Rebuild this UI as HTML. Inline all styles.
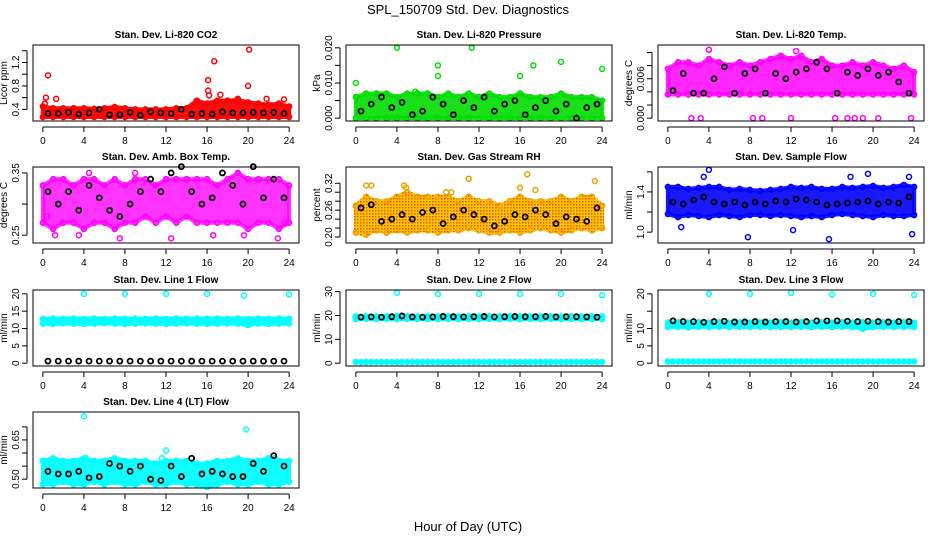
<!DOCTYPE html>
<html><head><meta charset="utf-8"><style>
body{margin:0;background:#fff;}
svg text{font-family:"Liberation Sans",sans-serif;}
</style></head><body>
<svg id="c" width="936" height="540" viewBox="0 0 936 540" xmlns="http://www.w3.org/2000/svg">
<defs>
<pattern id="rhpat" width="3" height="3" patternUnits="userSpaceOnUse"><rect width="3" height="3" fill="#ffc800"/><rect width="1.5" height="1.5" fill="#e85000"/></pattern>
</defs>
<rect width="936" height="540" fill="#fff"/>
<text x="468" y="14" text-anchor="middle" font-size="13">SPL_150709  Std. Dev. Diagnostics</text>
<text x="468" y="531" text-anchor="middle" font-size="13">Hour of Day (UTC)</text>
</svg>
<script>
const bandHours=[0,1,2,3,4,5,6,7,8,9,10,11,12,13,14,15,16,17,18,19,20,21,22,23,24];
const blkHours=[0.5,1.5,2.5,3.5,4.5,5.5,6.5,7.5,8.5,9.5,10.5,11.5,12.5,13.5,14.5,15.5,16.5,17.5,18.5,19.5,20.5,21.5,22.5,23.5];
const xTicks=[0,4,8,12,16,20,24];

const p1Lo=[0.27,0.27,0.27,0.27,0.27,0.27,0.27,0.27,0.27,0.27,0.27,0.27,0.27,0.27,0.27,0.27,0.27,0.27,0.27,0.27,0.27,0.27,0.27,0.27,0.27];
const p1Hi=[0.45,0.42,0.42,0.42,0.42,0.41,0.42,0.44,0.42,0.4,0.4,0.4,0.4,0.42,0.42,0.55,0.5,0.55,0.55,0.56,0.52,0.5,0.48,0.5,0.45];
const p1Blk=[0.33,0.33,0.35,0.32,0.34,0.4,0.31,0.31,0.35,0.3,0.36,0.34,0.33,0.4,0.32,0.33,0.32,0.36,0.34,0.34,0.35,0.34,0.35,0.33];
const p1OutX=[0.5,0.3,1.3,16.1,16.1,16.2,16.7,17.3,20.1,20,21.8,23.5,19,0.2];
const p1OutY=[0.98,0.6,0.58,0.9,0.72,0.64,1.22,0.65,1.42,0.8,0.58,0.57,0.58,0.5];
const p1Ticks=[0.4,0.6,0.8,1.0,1.2,1.4];
const p1Labels=["0.4","","0.8","","1.2",""];

const p2Lo=[0,0,0,0,0,0,0,0,0,0,0,0,0,0,0,0,0,0,0,0,0,0,0,0,0];
const p2Hi=[0.006,0.007,0.007,0.007,0.006,0.007,0.007,0.007,0.006,0.007,0.006,0.007,0.006,0.007,0.006,0.006,0.007,0.006,0.006,0.006,0.007,0.006,0.006,0.006,0.005];
const p2Blk=[0.002,0.004,0.006,0.003,0.0045,0.001,0.002,0.006,0.004,0.001,0.005,0.003,0.006,0.002,0.004,0.005,0.001,0.003,0.005,0.002,0.004,0.0,0.003,0.004];
const p2OutX=[4,11.3,8,8,0,17.3,16,20,24,5.8];
const p2OutY=[0.02,0.02,0.015,0.012,0.01,0.015,0.012,0.016,0.014,0.0075];
const p2Ticks=[0,0.005,0.01,0.015,0.02];
const p2Labels=["0.000","","0.010","","0.020"];

const p3Lo=[0.0036,0.0036,0.0036,0.0036,0.0036,0.0036,0.0036,0.0036,0.0036,0.0036,0.0036,0.0036,0.0036,0.0036,0.0036,0.0036,0.0036,0.0036,0.0036,0.0036,0.0036,0.0036,0.0036,0.0036,0.0036];
const p3Hi=[0.0075,0.0085,0.0085,0.008,0.009,0.0085,0.008,0.0085,0.008,0.0085,0.009,0.0095,0.009,0.0095,0.0085,0.009,0.008,0.008,0.0085,0.008,0.0085,0.008,0.0075,0.008,0.007];
const p3Blk=[0.0042,0.0068,0.0038,0.0038,0.006,0.0078,0.0038,0.0068,0.0075,0.0038,0.0068,0.006,0.007,0.0075,0.0085,0.0075,0.0038,0.007,0.0065,0.0075,0.0065,0.007,0.0055,0.0038];
const p3OutX=[2.3,3.2,8.3,9.2,12,16.3,17.5,18.2,19,20.5,23.7,12.5,4];
const p3OutY=[0,0,0,0,0,0,0,0,0,0,0,0.0102,0.0104];
const p3Ticks=[0,0.002,0.004,0.006,0.008,0.010];
const p3Labels=["0.000","","","0.006","",""];

const p4Lo=[0.27,0.26,0.27,0.27,0.26,0.27,0.27,0.26,0.27,0.27,0.28,0.27,0.28,0.27,0.28,0.27,0.27,0.27,0.27,0.27,0.26,0.27,0.27,0.26,0.27];
const p4Hi=[0.33,0.34,0.34,0.33,0.34,0.34,0.33,0.34,0.33,0.34,0.34,0.33,0.34,0.34,0.34,0.34,0.34,0.33,0.34,0.35,0.34,0.34,0.34,0.34,0.33];
const p4Blk=[0.32,0.3,0.32,0.29,0.33,0.31,0.29,0.28,0.3,0.32,0.34,0.32,0.35,0.36,0.32,0.3,0.31,0.35,0.33,0.3,0.36,0.31,0.34,0.31];
const p4OutX=[0.4,1.2,3.5,7.5,12.5,16.6,19.6,22.9,23.6,9,4.5];
const p4OutY=[0.28,0.25,0.25,0.245,0.245,0.25,0.25,0.245,0.27,0.35,0.35];
const p4Ticks=[0.25,0.30,0.35];
const p4Labels=["0.25","","0.35"];

const p5Lo=[0.21,0.205,0.215,0.21,0.215,0.21,0.215,0.215,0.21,0.215,0.215,0.22,0.215,0.21,0.21,0.215,0.21,0.215,0.22,0.215,0.21,0.215,0.22,0.215,0.22];
const p5Hi=[0.27,0.29,0.28,0.28,0.29,0.3,0.29,0.29,0.29,0.29,0.28,0.29,0.28,0.28,0.27,0.28,0.29,0.28,0.28,0.28,0.29,0.28,0.29,0.29,0.27];
const p5Blk=[0.265,0.272,0.235,0.24,0.25,0.24,0.255,0.26,0.23,0.245,0.26,0.25,0.24,0.225,0.235,0.25,0.245,0.26,0.25,0.23,0.245,0.24,0.235,0.265];
const p5OutX=[1,1.5,4.7,4.9,8.8,11,16.7,16,17.5,23.3,3,9.3];
const p5OutY=[0.315,0.315,0.315,0.31,0.3,0.33,0.34,0.31,0.305,0.325,0.21,0.3];
const p5Ticks=[0.20,0.22,0.24,0.26,0.28,0.30,0.32];
const p5Labels=["0.20","","","0.26","","","0.32"];

const p6Lo=[1.18,1.15,1.17,1.16,1.15,1.17,1.16,1.15,1.17,1.17,1.16,1.17,1.16,1.15,1.16,1.15,1.17,1.18,1.17,1.16,1.15,1.17,1.16,1.16,1.17];
const p6Hi=[1.45,1.45,1.43,1.44,1.45,1.45,1.42,1.43,1.42,1.41,1.42,1.43,1.45,1.44,1.45,1.43,1.43,1.45,1.44,1.45,1.46,1.44,1.45,1.47,1.45];
const p6Blk=[1.3,1.28,1.32,1.35,1.3,1.28,1.3,1.27,1.3,1.28,1.31,1.3,1.33,1.32,1.3,1.27,1.28,1.29,1.3,1.31,1.28,1.3,1.29,1.35];
const p6OutX=[4,3.5,7.8,12.2,15.7,19.5,23.8,23.5,1.3,17.8];
const p6OutY=[1.62,1.55,0.95,1.02,0.93,1.58,0.98,1.55,1.05,1.55];
const p6Ticks=[1.0,1.2,1.4,1.6];
const p6Labels=["1.0","","1.4",""];

const p7Lo=[11.4,11.3,11.5,11.4,11.3,11.4,11.5,11.4,11.3,11.4,11.5,11.4,11.3,11.4,11.5,11.4,11.3,11.4,11.5,11.4,11.0,11.4,11.3,11.4,11.5];
const p7Hi=[12.8,12.9,12.8,12.9,12.8,12.9,12.8,12.9,12.8,12.9,12.8,12.9,12.8,12.9,12.8,12.9,12.8,12.9,12.8,12.9,12.8,12.9,12.8,12.9,12.8];
const p7Blk=[0.6,0.6,0.6,0.6,0.6,0.6,0.6,0.6,0.6,0.6,0.6,0.6,0.6,0.6,0.6,0.6,0.6,0.6,0.6,0.6,0.6,0.6,0.6,0.6];
const p7OutX=[4,8,12,16,19.6,24];
const p7OutY=[20,20,20,20,19.5,19.8];
const p7Ticks=[0,5,10,15,20];
const p7Labels=["0","5","10","15","20"];

const p8Lo=[18.5,18.6,18.5,18.6,18.5,18.6,18.5,18.6,18.5,18.6,18.5,18.6,18.5,18.6,18.5,18.6,18.5,18.6,18.5,18.6,18.5,18.6,18.5,18.6,18.5];
const p8Hi=[19.6,19.7,19.6,19.7,19.8,19.7,19.6,19.7,19.6,19.7,19.6,19.7,19.6,19.7,19.6,19.7,19.6,19.7,19.6,19.7,19.6,19.7,19.6,19.7,19.6];
const p8Blk=[19.3,19.4,19.3,19.5,19.8,19.4,19.3,19.4,19.6,19.5,19.4,19.5,19.6,19.4,19.5,19.6,19.5,19.5,19.6,19.4,19.5,19.5,19.4,19.3];
const p8Bot=[0.5,0.5,0.5,0.5,0.5,0.5,0.5,0.5,0.5,0.5,0.5,0.5,0.5,0.5,0.5,0.5,0.5,0.5,0.5,0.5,0.5,0.5,0.5,0.5,0.5];
const p8OutX=[4,8,12,16,20,24];
const p8OutY=[29.5,29,29,29,29,28.5];
const p8Ticks=[0,10,20,30];
const p8Labels=["0","10","20","30"];

const p9Lo=[10.4,10.5,10.3,10.5,10.4,10.5,10.4,10.5,10.4,10.5,10.4,10.5,10.4,10.5,10.4,10.5,10.4,10.5,10.4,9.9,10.4,10.5,10.4,10.5,10.4];
const p9Hi=[11.7,11.8,11.7,11.8,11.7,11.8,11.7,11.8,11.7,11.8,11.7,11.8,11.7,11.8,11.7,11.8,11.7,11.8,11.7,11.8,11.7,11.8,11.7,11.8,11.7];
const p9Blk=[12.2,12,12,11.8,12,12.1,11.9,11.9,12,11.9,12,12,11.9,12,12.2,12.2,12.2,12.1,12,12.1,12,11.9,12,12];
const p9Bot=[0.5,0.5,0.5,0.5,0.5,0.5,0.5,0.5,0.5,0.5,0.5,0.5,0.5,0.5,0.5,0.5,0.5,0.5,0.5,0.5,0.5,0.5,0.5,0.5,0.5];
const p9OutX=[4,8,12,16,20,24];
const p9OutY=[20,20,20.3,19.8,20,19.7];
const p9Ticks=[0,5,10,15,20];
const p9Labels=["0","5","10","","20"];

const p10Lo=[0.48,0.48,0.49,0.48,0.48,0.49,0.48,0.49,0.48,0.48,0.49,0.48,0.48,0.49,0.48,0.48,0.47,0.48,0.49,0.48,0.48,0.49,0.48,0.48,0.49];
const p10Hi=[0.57,0.58,0.57,0.57,0.58,0.57,0.57,0.58,0.57,0.57,0.57,0.56,0.57,0.57,0.57,0.56,0.56,0.57,0.57,0.58,0.57,0.57,0.58,0.57,0.57];
const p10Blk=[0.53,0.52,0.52,0.53,0.505,0.51,0.56,0.55,0.53,0.55,0.5,0.495,0.55,0.51,0.58,0.52,0.53,0.52,0.51,0.51,0.56,0.53,0.59,0.55];
const p10OutX=[4,19.8,12,11.6,22.6,4.2];
const p10OutY=[0.74,0.69,0.61,0.58,0.58,0.58];
const p10Ticks=[0.50,0.55,0.60,0.65,0.70];
const p10Labels=["0.50","","","0.65",""];

const panels=[
 {t:"Stan. Dev. Li-820 CO2",yl:"Licor ppm",c:0,r:0,ylim:[0.25,1.45],col:"#ff0000",op:0.95,lo:p1Lo,hi:p1Hi,blk:p1Blk,ox:p1OutX,oy:p1OutY,tk:p1Ticks,lb:p1Labels,n:"co2"},
 {t:"Stan. Dev. Li-820 Pressure",yl:"kPa",c:1,r:0,ylim:[0,0.02],col:"#00dd00",op:0.9,lo:p2Lo,hi:p2Hi,blk:p2Blk,ox:p2OutX,oy:p2OutY,tk:p2Ticks,lb:p2Labels,n:"pressure"},
 {t:"Stan. Dev. Li-820 Temp.",yl:"degrees C",c:2,r:0,ylim:[0,0.0107],col:"#ff00ff",op:0.85,lo:p3Lo,hi:p3Hi,blk:p3Blk,ox:p3OutX,oy:p3OutY,tk:p3Ticks,lb:p3Labels,n:"licor-temp"},
 {t:"Stan. Dev. Amb. Box Temp.",yl:"degrees C",c:0,r:1,ylim:[0.242,0.355],col:"#ff00ff",op:0.8,lo:p4Lo,hi:p4Hi,blk:p4Blk,ox:p4OutX,oy:p4OutY,tk:p4Ticks,lb:p4Labels,n:"box-temp"},
 {t:"Stan. Dev. Gas Stream RH",yl:"percent",c:1,r:1,ylim:[0.193,0.35],col:"#f0a000",fill:"url(#rhpat)",op:1,lo:p5Lo,hi:p5Hi,blk:p5Blk,ox:p5OutX,oy:p5OutY,tk:p5Ticks,lb:p5Labels,n:"gas-rh"},
 {t:"Stan. Dev. Sample Flow",yl:"ml/min",c:2,r:1,ylim:[0.92,1.62],col:"#0000ff",op:0.9,lo:p6Lo,hi:p6Hi,blk:p6Blk,ox:p6OutX,oy:p6OutY,tk:p6Ticks,lb:p6Labels,n:"sample-flow"},
 {t:"Stan. Dev. Line 1 Flow",yl:"ml/min",c:0,r:2,ylim:[0,20.3],col:"#00ffff",op:1,lo:p7Lo,hi:p7Hi,blk:p7Blk,ox:p7OutX,oy:p7OutY,tk:p7Ticks,lb:p7Labels,n:"line1-flow"},
 {t:"Stan. Dev. Line 2 Flow",yl:"ml/min",c:1,r:2,ylim:[0,29.5],col:"#00ffff",op:1,lo:p8Lo,hi:p8Hi,blk:p8Blk,bot:p8Bot,ox:p8OutX,oy:p8OutY,tk:p8Ticks,lb:p8Labels,n:"line2-flow"},
 {t:"Stan. Dev. Line 3 Flow",yl:"ml/min",c:2,r:2,ylim:[0,20.3],col:"#00ffff",op:1,lo:p9Lo,hi:p9Hi,blk:p9Blk,bot:p9Bot,ox:p9OutX,oy:p9OutY,tk:p9Ticks,lb:p9Labels,n:"line3-flow"},
 {t:"Stan. Dev. Line 4 (LT) Flow",yl:"ml/min",c:0,r:3,ylim:[0.477,0.746],col:"#00ffff",op:0.95,lo:p10Lo,hi:p10Hi,blk:p10Blk,ox:p10OutX,oy:p10OutY,tk:p10Ticks,lb:p10Labels,n:"line4-flow"}
];
const svg=document.getElementById('c');
const NS="http://www.w3.org/2000/svg";
function mk(tag,attrs,parent){const e=document.createElementNS(NS,tag);for(const k in attrs)e.setAttribute(k,attrs[k]);parent.appendChild(e);return e;}
const colLeft=[33,346,658],rowTop=[45,167,290,412],W=266,H=76;
panels.forEach(p=>{
 const L=colLeft[p.c],T=rowTop[p.r];
 const g=mk('g',{},svg);
 
 
 const xs=h=>L+W*0.04/1.08+h/24*W/1.08;
 const r=p.ylim[1]-p.ylim[0],lo=p.ylim[0]-0.04*r,hi=p.ylim[1]+0.04*r;
 const ys=v=>T+H*(hi-v)/(hi-lo);
 let pts=bandHours.map((h,i)=>xs(h)+','+ys(p.hi[i]));
 pts=pts.concat(bandHours.slice().reverse().map((h,i)=>xs(h)+','+ys(p.lo[bandHours.length-1-i])));
 const band=mk('polygon',{points:pts.join(' '),fill:p.fill||p.col,'fill-opacity':p.op,stroke:p.fill||p.col,'stroke-opacity':p.op,'stroke-width':4,'stroke-linejoin':'round'},g);
 
 
 bandHours.forEach((h,i)=>{
  const a=mk('circle',{cx:xs(h),cy:ys(p.hi[i]),r:2.5,fill:'none',stroke:p.col,'stroke-width':1.5},g);
  
  
  const b=mk('circle',{cx:xs(h),cy:ys(p.lo[i]),r:2.5,fill:'none',stroke:p.col,'stroke-width':1.5},g);
  
  
  if(p.bot){const c=mk('circle',{cx:xs(h),cy:ys(p.bot[i]),r:2.5,fill:p.col,stroke:p.col,'stroke-width':1.5},g);
   
   
   if(i<24){const c2=mk('circle',{cx:xs(h+0.5),cy:ys(p.bot[i]),r:2.5,fill:p.col,stroke:p.col,'stroke-width':1.5},g);
   
   }}
 });
 p.ox.forEach((h,i)=>{
  const o=mk('circle',{cx:xs(h),cy:ys(p.oy[i]),r:2.5,fill:'none',stroke:p.col,'stroke-width':1.5},g);
  
  
 });
 blkHours.forEach((h,i)=>{
  const b=mk('circle',{cx:xs(h),cy:ys(p.blk[i]),r:2.5,fill:'none',stroke:'#000','stroke-width':1.8},g);
  
  
 });
 const box=mk('rect',{x:L,y:T,width:W,height:H,fill:'none',stroke:'#000','stroke-width':1},g);
 
 
 const ti=mk('text',{x:L+W/2,y:T-7,'text-anchor':'middle','font-size':10,'font-weight':'bold'},g);
 ti.textContent=p.t;
 
 
 mk('line',{x1:xs(0),x2:xs(24),y1:T+H+6,y2:T+H+6,stroke:'#000'},g);
 xTicks.forEach(h=>{
  mk('line',{x1:xs(h),x2:xs(h),y1:T+H+6,y2:T+H+11,stroke:'#000'},g);
  const tx=mk('text',{x:xs(h),y:T+H+23,'text-anchor':'middle','font-size':10},g);
  tx.textContent=h;
  
  
 });
 mk('line',{x1:L-6,x2:L-6,y1:ys(p.tk[0]),y2:ys(p.tk[p.tk.length-1]),stroke:'#000'},g);
 p.tk.forEach((v,i)=>{
  mk('line',{x1:L-11,x2:L-6,y1:ys(v),y2:ys(v),stroke:'#000'},g);
  if(p.lb[i]){const tx=mk('text',{x:L-14,y:ys(v),'text-anchor':'middle','font-size':10,transform:`rotate(-90 ${L-14} ${ys(v)})`},g);
   tx.textContent=p.lb[i];
   
   }
 });
 const yl=mk('text',{x:L-26,y:T+H/2,'text-anchor':'middle','font-size':10,transform:`rotate(-90 ${L-26} ${T+H/2})`},g);
 yl.textContent=p.yl;
 
 
});
</script>
</body></html>
